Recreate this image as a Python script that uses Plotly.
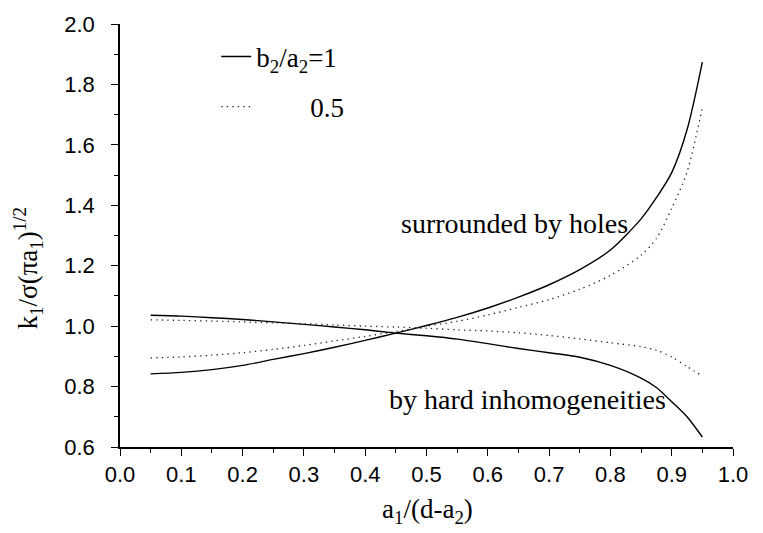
import plotly.graph_objects as go

# x values a1/(d-a2)
x_vals = [0.05, 0.10, 0.15, 0.20, 0.25, 0.30, 0.35, 0.40, 0.45, 0.50, 0.55,
          0.60, 0.65, 0.70, 0.75, 0.80, 0.85, 0.875, 0.90, 0.925, 0.95]

# surrounded by holes
holes_b1 = [0.842, 0.847, 0.856, 0.870, 0.890, 0.909, 0.930, 0.953, 0.977, 1.002, 1.029,
            1.060, 1.096, 1.137, 1.187, 1.252, 1.355, 1.425, 1.508, 1.650, 1.874]
holes_b05 = [0.895, 0.898, 0.904, 0.912, 0.923, 0.936, 0.951, 0.966, 0.982, 1.000, 1.016,
             1.037, 1.062, 1.088, 1.122, 1.168, 1.235, 1.290, 1.390, 1.510, 1.724]

# by hard inhomogeneities
hard_b1 = [1.036, 1.033, 1.028, 1.022, 1.014, 1.006, 0.997, 0.988, 0.977, 0.968, 0.957,
           0.942, 0.926, 0.912, 0.897, 0.870, 0.828, 0.797, 0.750, 0.700, 0.633]
hard_b05 = [1.021, 1.019, 1.017, 1.014, 1.011, 1.008, 1.004, 1.000, 0.997, 0.993, 0.988,
            0.984, 0.978, 0.969, 0.958, 0.945, 0.932, 0.920, 0.898, 0.866, 0.835]

legend_names = ["b<sub>2</sub>/a<sub>2</sub>=1", "\u00a0" * 8 + "0.5"]
label_holes = "surrounded by holes"
label_hard = "by hard inhomogeneities"
x_title = "a<sub>1</sub>/(d-a<sub>2</sub>)"
y_title = "k<sub>1</sub>/σ(πa<sub>1</sub>)<sup>1/2</sup>"

SERIF = "Liberation Serif"
SANS = "Liberation Sans"

solid = dict(color="black", width=1.4, shape="spline", smoothing=0.8)
dotted = dict(color="#222", width=1.3, dash="1.3px,4.2px", shape="spline", smoothing=0.8)

fig = go.Figure()
fig.add_trace(go.Scatter(x=x_vals, y=holes_b1, mode="lines", line=solid,
                         name=legend_names[0], legendgroup="a", showlegend=True))
fig.add_trace(go.Scatter(x=x_vals, y=holes_b05, mode="lines", line=dotted,
                         name=legend_names[1], legendgroup="b", showlegend=True))
fig.add_trace(go.Scatter(x=x_vals, y=hard_b1, mode="lines", line=solid, showlegend=False))
fig.add_trace(go.Scatter(x=x_vals, y=hard_b05, mode="lines", line=dotted, showlegend=False))

axis_common = dict(
    showline=True, linecolor="black", linewidth=1.5, mirror=False,
    ticks="outside", ticklen=7, tickwidth=1.4, tickcolor="black",
    showgrid=False, zeroline=False,
    tickfont=dict(family=SANS, size=22, color="black"),
)

fig.update_xaxes(range=[0, 1], dtick=0.1, tick0=0, tickformat=".1f",
                 minor=dict(ticks="outside", ticklen=4, dtick=0.05, tickcolor="black", tickwidth=1.2),
                 **axis_common)
fig.update_yaxes(range=[0.6, 2.0], dtick=0.2, tick0=0.6, tickformat=".1f",
                 ticklabelstandoff=12,
                 minor=dict(ticks="outside", ticklen=4, dtick=0.1, tickcolor="black", tickwidth=1.2),
                 **axis_common)

fig.add_annotation(x=0.455, y=1.34, xref="x", yref="y", text=label_holes, showarrow=False,
                   xanchor="left", yanchor="middle", font=dict(family=SERIF, size=28, color="black"))
fig.add_annotation(x=0.436, y=0.758, xref="x", yref="y", text=label_hard, showarrow=False,
                   xanchor="left", yanchor="middle", font=dict(family=SERIF, size=28, color="black"))
fig.add_annotation(x=0.501, y=-0.152, xref="paper", yref="paper", text=x_title, showarrow=False,
                   xanchor="center", yanchor="middle", font=dict(family=SERIF, size=27, color="black"))
fig.add_annotation(x=-0.150, y=0.4225, xref="paper", yref="paper", text=y_title, showarrow=False,
                   textangle=-90, xanchor="center", yanchor="middle",
                   font=dict(family=SERIF, size=27, color="black"))

fig.update_layout(
    width=763, height=533,
    margin=dict(l=120, r=30, t=21, b=86),
    plot_bgcolor="white", paper_bgcolor="white",
    legend=dict(x=0.157, y=0.98, xanchor="left", yanchor="top",
                bgcolor="rgba(0,0,0,0)", borderwidth=0,
                font=dict(family=SERIF, size=27, color="black"),
                tracegroupgap=12, traceorder="grouped"),
)

fig.write_html("out.html")
